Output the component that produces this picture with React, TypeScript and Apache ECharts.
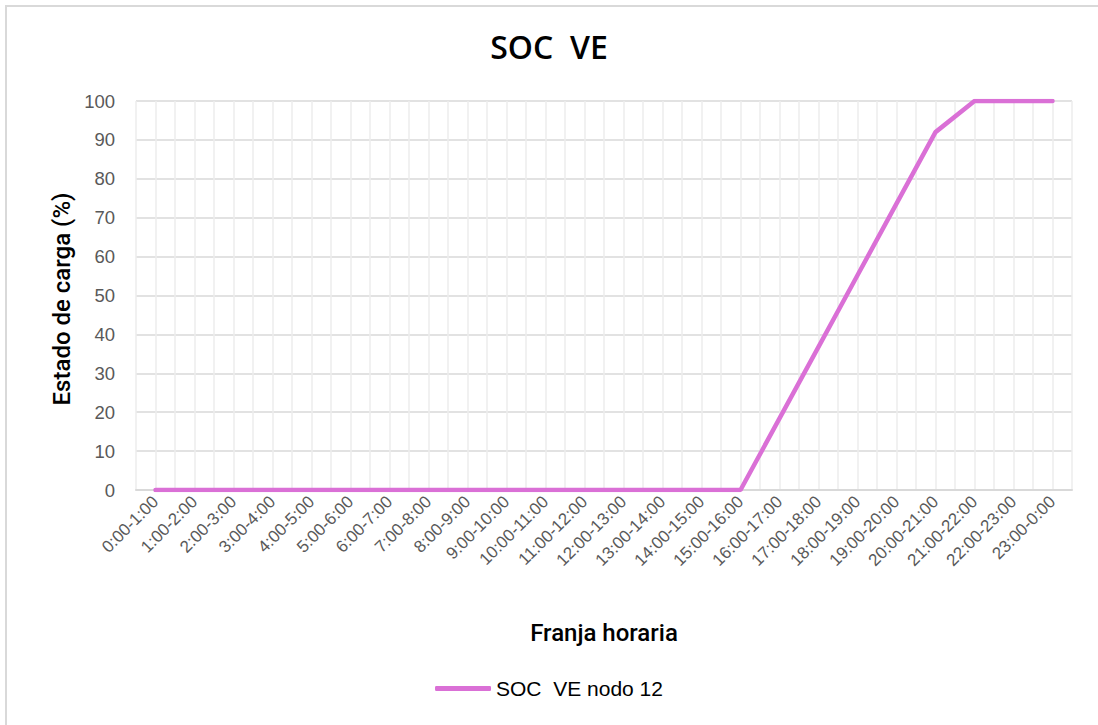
import React, { useEffect, useRef } from "react";
import * as echarts from "echarts";

const categories = [
  "0:00-1:00", "1:00-2:00", "2:00-3:00", "3:00-4:00", "4:00-5:00", "5:00-6:00",
  "6:00-7:00", "7:00-8:00", "8:00-9:00", "9:00-10:00", "10:00-11:00", "11:00-12:00",
  "12:00-13:00", "13:00-14:00", "14:00-15:00", "15:00-16:00", "16:00-17:00", "17:00-18:00",
  "18:00-19:00", "19:00-20:00", "20:00-21:00", "21:00-22:00", "22:00-23:00", "23:00-0:00",
];
const socValues = [
  0, 0, 0, 0, 0, 0, 0, 0, 0, 0, 0, 0, 0, 0, 0, 0,
  18.4, 36.8, 55.2, 73.6, 92, 100, 100, 100,
];
const seriesName = "SOC  VE nodo 12";
const titleText = "SOC  VE";
const yAxisName = "Estado de carga (%)";
const xAxisName = "Franja horaria";

export default function App() {
  const ref = useRef<HTMLDivElement>(null);
  useEffect(() => {
    if (!ref.current) return;
    const chart = echarts.init(ref.current, null, { renderer: "svg" });
    const font = "'Liberation Sans', Arial, sans-serif";
    const headFont = "Roboto, 'Liberation Sans', sans-serif";
    chart.setOption({
      animation: false,
      backgroundColor: "#ffffff",
      textStyle: { fontFamily: font },
      title: {
        text: titleText,
        left: "center",
        top: 25,
        textStyle: { fontSize: 32, fontWeight: 600, color: "#000", fontFamily: "'Open Sans', Roboto, sans-serif" },
      },
      graphic: [
        {
          type: "rect",
          shape: { x: 6, y: 6, width: 1200, height: 900 },
          style: { fill: "none", stroke: "#d9d9d9", lineWidth: 2 },
          silent: true,
        },
        {
          type: "text",
          x: 62,
          y: 299,
          rotation: Math.PI / 2,
          style: {
            text: yAxisName,
            fontSize: 24,
            fontWeight: 500,
            fill: "#000",
            fontFamily: headFont,
            align: "center",
            verticalAlign: "middle",
          },
        },
      ],
      legend: {
        bottom: 21,
        left: "center",
        itemWidth: 56,
        itemHeight: 5,
        itemGap: 4,
        textStyle: { fontSize: 21, color: "#000", fontFamily: font },
        data: [{ name: seriesName, icon: "roundRect" }],
      },
      grid: { left: 136, right: 26, top: 101, bottom: 235, containLabel: false },
      xAxis: [
        {
          type: "category",
          data: categories,
          boundaryGap: true,
          axisLine: { show: true, lineStyle: { color: "#d9d9d9", width: 2 } },
          axisTick: { show: false },
          splitLine: { show: false },
          axisLabel: {
            rotate: 45,
            interval: 0,
            fontSize: 17,
            color: "#595959",
            margin: 9,
          },
          name: xAxisName,
          nameLocation: "middle",
          nameGap: 131,
          nameTextStyle: { fontSize: 24, fontWeight: 500, color: "#000", fontFamily: headFont },
        },
        {
          type: "value",
          min: 0,
          max: 48,
          interval: 1,
          show: true,
          position: "top",
          axisLine: { show: false },
          axisTick: { show: false },
          axisLabel: { show: false },
          splitLine: { show: true, lineStyle: { color: "#ececec", width: 1.5 } },
        },
      ],
      yAxis: {
        type: "value",
        min: 0,
        max: 100,
        interval: 10,
        axisLine: { show: false },
        axisTick: { show: false },
        axisLabel: { fontSize: 18.5, color: "#595959", margin: 21 },
        splitLine: { show: true, lineStyle: { color: "#d9d9d9", width: 1.5 } },
      },
      series: [
        {
          name: seriesName,
          type: "line",
          xAxisIndex: 0,
          data: socValues,
          symbol: "none",
          lineStyle: { color: "#da70d6", width: 4.5, cap: "round" },
          itemStyle: { color: "#da70d6" },
        },
      ],
    });
    return () => chart.dispose();
  }, []);
  return (
    <div
      ref={ref}
      style={{ position: "fixed", left: 0, top: 0, width: 1098, height: 725 }}
    />
  );
}
